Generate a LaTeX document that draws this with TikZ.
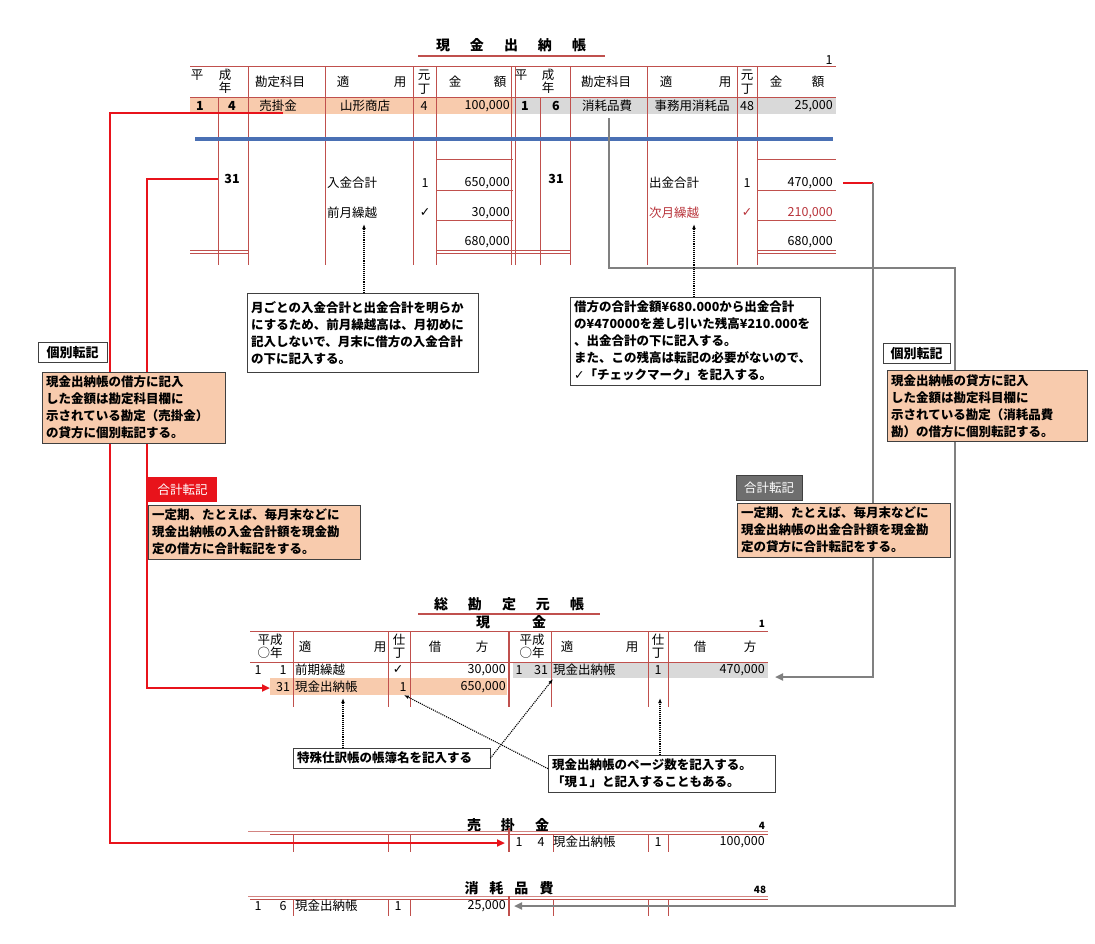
\documentclass[tikz,border=0pt]{standalone}
\usepackage{fontspec}
\setmainfont{Noto Sans CJK JP}
\newfontfamily\chk{DejaVu Sans}
\usetikzlibrary{arrows.meta}
\definecolor{rule}{HTML}{C0504D}
\definecolor{peach}{HTML}{F8CBAD}
\definecolor{band}{HTML}{D9D9D9}
\definecolor{postred}{HTML}{E8131B}
\definecolor{postgray}{HTML}{808080}
\definecolor{sea}{HTML}{4A70B4}
\definecolor{carry}{HTML}{B8333A}
\definecolor{tagray}{HTML}{6E6E6E}

\begin{document}
\begin{tikzpicture}[x=1pt,y=-1pt,font=\fontsize{12.5}{13}\selectfont,
  note/.style={draw=black!75,fill=white,align=left,anchor=north west,inner sep=4pt,
    font=\fontsize{12.5}{17}\selectfont\bfseries},
  hot/.style={note,fill=peach},
  tag/.style={draw=black!75,fill=white,anchor=north west,inner sep=0pt,minimum height=20pt,
    minimum width=69pt,font=\fontsize{13}{13}\selectfont\bfseries},
  tl/.style={rule,line width=0.7pt},
  post/.style={line width=2pt,-{Triangle[length=8pt,width=7pt]}},
  hint/.style={densely dotted,line width=1.1pt,-{Latex[length=5pt]}},
  ttl/.style={font=\fontsize{14}{14}\selectfont\bfseries}]
\useasboundingbox (0,0) rectangle (1095,943);

% 現金出納帳
\node[ttl] (cbtitle) at (511,45) {現\hspace{20pt}金\hspace{20pt}出\hspace{20pt}納\hspace{20pt}帳};
\draw[rule,line width=1.3pt] (418,56) -- (605,56);
\node (cbpage) at (829,60) {1};
\fill[peach] (190,97) rectangle (513,114);
\fill[band] (513,97) rectangle (836,114);
\draw[tl] (190,66) -- (836,66) (190,97) -- (836,97);
\foreach \x in {248,325,413,436,511,515,570,647,737,757}
  \draw[tl] (\x,66) -- (\x,265);
\foreach \x in {218,540}
  \draw[tl] (\x,97) -- (\x,265);
\foreach \y in {159,190,220}
  \draw[tl] (436,\y) -- (513,\y) (757,\y) -- (836,\y);
\foreach \y in {250,253}
  \draw[tl] (190,\y) -- (248,\y) (436,\y) -- (570,\y) (757,\y) -- (836,\y);
\draw[sea,line width=3.5pt] (195,139) -- (833,139);

\foreach \x/\y/\t [count=\i] in {197/75/平,225/75/成,225/88/年,280/82/勘定科目,343/82/適,
    400/82/用,424/75/元,424/89/丁,455/82/金,500/82/額,521/75/平,548/75/成,548/88/年,
    606/82/勘定科目,666/82/適,725/82/用,747/75/元,747/89/丁,776/82/金,818/82/額}
  \node (cbh\i) at (\x,\y) {\t};
\foreach \x/\y/\t [count=\i] in {200/106/\bfseries 1,232/106/\bfseries 4,278/106/売掛金,
    365/106/山形商店,424/106/4,525/106/\bfseries 1,556/106/\bfseries 6,607/106/消耗品費,
    692/106/事務用消耗品,747/106/48,232/179/\bfseries 31,556/179/\bfseries 31,425/183/1,
    747/183/1,425/213/{\chk ✓},747/213/{\color{carry}\chk ✓}}
  \node (cbd\i) at (\x,\y) {\t};
\foreach \x/\y/\t [count=\i] in {327/183/入金合計,327/213/前月繰越,649/183/出金合計,
    649/213/{\color{carry}次月繰越}}
  \node[anchor=west,inner sep=0pt] (cbs\i) at (\x,\y) {\t};
\foreach \x/\y/\t [count=\i] in {511/106/{100,000},834/106/{25,000},511/183/{650,000},
    511/213/{30,000},511/242/{680,000},834/183/{470,000},834/213/{\color{carry}210,000},
    834/242/{680,000}}
  \node[anchor=east,inner sep=1pt] (cbn\i) at (\x,\y) {\t};

% 総勘定元帳・現金
\node[ttl] (gltitle) at (509,604) {総\hspace{20pt}勘\hspace{20pt}定\hspace{20pt}元\hspace{20pt}帳};
\draw[rule,line width=1.3pt] (418,614) -- (600,614);
\node[ttl] (cash) at (511,622) {現\hspace{42pt}金};
\node[font=\bfseries] (cashno) at (762,624) {1};
\fill[band] (513,662) rectangle (768,678);
\fill[peach] (270,678) rectangle (507,695);
\draw[tl] (250,631) -- (768,631) (250,662) -- (768,662);
\foreach \x in {293,388,410,551,648,668}
  \draw[tl] (\x,631) -- (\x,707);
\draw[rule,line width=1.4pt] (509,631) -- (509,707);
\foreach \x/\y/\t [count=\i] in {270/640/平成,270/653/○年,305/647/適,380/647/用,399/640/仕,
    399/653/丁,435/647/借,482/647/方,532/640/平成,532/653/○年,567/647/適,632/647/用,
    658/640/仕,658/653/丁,700/647/借,750/647/方,258/670/1,283/670/1,398/670/{\chk ✓},
    519/670/1,541/670/31,658/670/1,283/687/31,403/687/1}
  \node (glc\i) at (\x,\y) {\t};
\node[anchor=west,inner sep=1pt] (gl1) at (294,670) {前期繰越};
\node[anchor=west,inner sep=1pt] (gl2) at (552,670) {現金出納帳};
\node[anchor=west,inner sep=1pt] (gl3) at (294,687) {現金出納帳};
\node[anchor=east,inner sep=1pt] (gl4) at (507,670) {30,000};
\node[anchor=east,inner sep=1pt] (gl5) at (766,670) {470,000};
\node[anchor=east,inner sep=1pt] (gl6) at (507,687) {650,000};

% 売掛金
\node[ttl] (urtitle) at (508,825) {売\hspace{20pt}掛\hspace{20pt}金};
\node[font=\bfseries] (urno) at (762,826) {4};
\draw[rule!70,line width=0.7pt] (248,831) -- (768,831);
\draw[tl] (270,834) -- (768,834);
\foreach \x in {293,388,410,553,648,668}
  \draw[tl] (\x,834) -- (\x,852);
\draw[rule,line width=1.4pt] (509,828) -- (509,852);
\foreach \x/\t [count=\i] in {519/1,541/4,658/1}
  \node (urc\i) at (\x,842) {\t};
\node[anchor=west,inner sep=1pt] (ur2a) at (552,842) {現金出納帳};
\node[anchor=east,inner sep=1pt] (ur2b) at (766,842) {100,000};

% 消耗品費
\node[ttl] (shtitle) at (509,888) {消\hspace{11pt}耗\hspace{11pt}品\hspace{11pt}費};
\node[font=\bfseries] (shno) at (760,890) {48};
\draw[rule!70,line width=0.7pt] (248,896) -- (768,896);
\draw[tl] (250,899) -- (768,899);
\foreach \x in {293,388,410,553,648,668}
  \draw[tl] (\x,899) -- (\x,916);
\draw[rule,line width=1.4pt] (509,896) -- (509,916);
\foreach \x/\t [count=\i] in {258/1,283/6,398/1}
  \node (shc\i) at (\x,906) {\t};
\node[anchor=west,inner sep=1pt] (sh2a) at (294,906) {現金出納帳};
\node[anchor=east,inner sep=1pt] (sh2b) at (507,906) {25,000};

% 転記の線
\coordinate (ur0) at (283,113);
\coordinate (ur1) at (505,843);
\draw[post,postred] (ur0) -- ++(-173,0) |- (ur1);
\coordinate (gk0) at (218,179);
\coordinate (gk1) at (270,688);
\draw[post,postred] (gk0) -- ++(-71,0) |- (gk1);
\coordinate (sk0) at (843,183);
\coordinate (sk1) at (873,183);
\coordinate (sk2) at (775,677);
\draw[postred,line width=2pt] (sk0) -- (sk1);
\draw[post,postgray] (sk1) |- (sk2);
\coordinate (sh0) at (609,118);
\coordinate (sh1) at (514,906);
\draw[post,postgray] (sh0) |- (955,268) |- (sh1);

% 説明
\node[tag] (kobetsuL) at (38,342) {個別転記};
\node[hot,text width=175pt] (postL) at (42,372) {現金出納帳の借方に記入\\した金額は勘定科目欄に\\示されている勘定（売掛金）\\の貸方に個別転記する。};
\node[tag,minimum width=67pt] (kobetsuR) at (883,343) {個別転記};
\node[hot,text width=192pt] (postR) at (887,370) {現金出納帳の貸方に記入\\した金額は勘定科目欄に\\示されている勘定（消耗品費\\勘）の借方に個別転記する。};
\node[tag,fill=postred,text=white,draw=none,minimum height=25pt,font=\fontsize{12.5}{12.5}\selectfont] (gokeiTagL) at (148,477) {合計転記};
\node[hot,text width=204pt] (gokeiL) at (148,505) {一定期、たとえば、毎月末などに\\現金出納帳の入金合計額を現金勘\\定の借方に合計転記をする。};
\node[tag,fill=tagray,text=white,minimum height=25pt,minimum width=66pt,font=\fontsize{12.5}{12.5}\selectfont] (gokeiTagR) at (736,475) {合計転記};
\node[hot,text width=205pt] (gokeiR) at (737,503) {一定期、たとえば、毎月末などに\\現金出納帳の出金合計額を現金勘\\定の貸方に合計転記をする。};
\node[note,text width=223pt,minimum height=79pt] (monthly) at (247,293) {月ごとの入金合計と出金合計を明らか\\にするため、前月繰越高は、月初めに\\記入しないで、月末に借方の入金合計\\の下に記入する。};
\node[note,text width=242pt] (balance) at (570,297) {借方の合計金額¥680.000から出金合計\\の¥470000を差し引いた残高¥210.000を\\、出金合計の下に記入する。\\また、この残高は転記の必要がないので、\\{\chk\bfseries ✓}「チェックマーク」を記入する。};
\node[note,text width=189pt] (tokushu) at (293,748) {特殊仕訳帳の帳簿名を記入する};
\node[note,text width=219pt] (page) at (548,755) {現金出納帳のページ数を記入する。\\「現１」と記入することもある。};

\coordinate (zenA) at (364,224);
\draw[hint] (monthly.north -| zenA) -- (zenA);
\coordinate (jiA) at (694,224);
\draw[hint] (balance.north -| jiA) -- (jiA);
\coordinate (bk1) at (343,698);
\draw[hint] (tokushu.north -| bk1) -- (bk1);
\coordinate (bk2) at (553,679);
\draw[hint] (tokushu.east) -- (bk2);
\coordinate (pg1) at (404,695);
\draw[hint] ([yshift=5pt]page.west) -- (pg1);
\coordinate (pg2) at (660,698);
\draw[hint] (page.north -| pg2) -- (pg2);
\end{tikzpicture}
\end{document}
